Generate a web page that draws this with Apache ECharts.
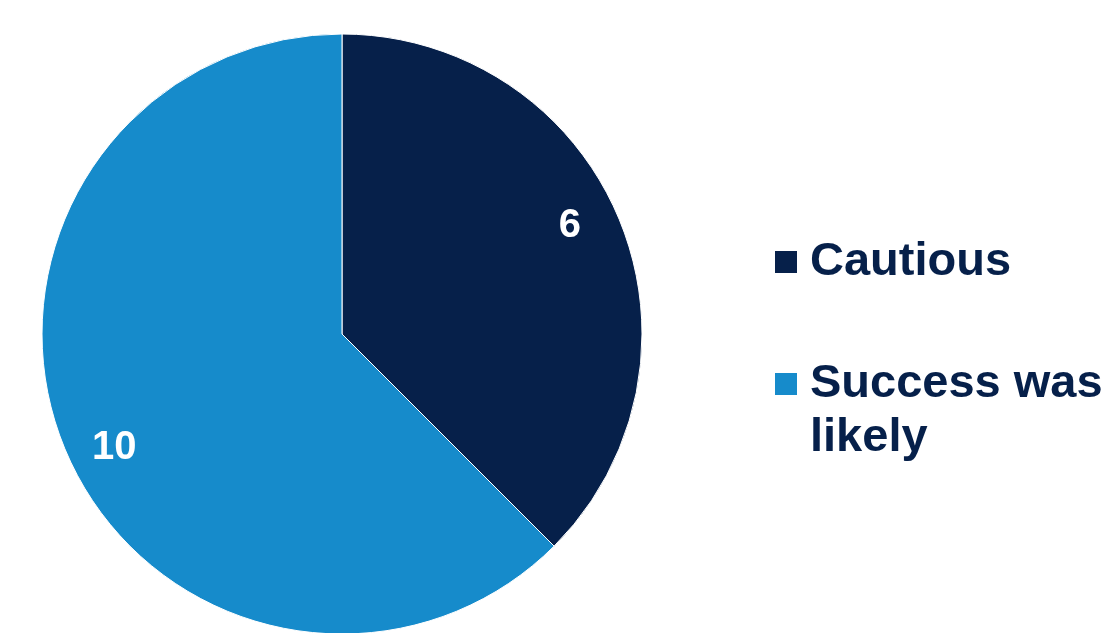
<!DOCTYPE html>
<html>
<head>
<meta charset="utf-8">
<script src="https://cdn.jsdelivr.net/npm/echarts@6/dist/echarts.min.js"></script>
<style>html,body{margin:0;padding:0;background:#fff}#c{width:1107px;height:633px}</style>
</head>
<body>
<div id="c"></div>
<script>
const categories = ['Cautious', 'Success was likely'];
const values = [6, 10];
const colors = ['#06204A', '#168BCB'];

const chart = echarts.init(document.getElementById('c'));
const data = categories.map((n, i) => ({ name: n, value: values[i], itemStyle: { color: colors[i] } }));
const font = '"Liberation Sans", Arial, sans-serif';
const legendText = (pad) => ({
  color: '#06204A', fontSize: 47, fontWeight: 'bold', fontFamily: font,
  lineHeight: 54, padding: pad
});
chart.setOption({
  animation: false,
  legend: [
    {
      orient: 'vertical', left: 773, top: 235, padding: 0,
      itemWidth: 24, itemHeight: 24, icon: 'rect',
      data: [{ name: categories[0], itemStyle: { color: colors[0] } }],
      textStyle: legendText([0, 0, 0, 7]),
      selectedMode: false
    },
    {
      orient: 'vertical', left: 773, top: 303, padding: 0,
      itemWidth: 24, itemHeight: 24, icon: 'rect',
      data: [{ name: categories[1], itemStyle: { color: colors[1] } }],
      formatter: () => '\nSuccess was\nlikely',
      textStyle: legendText([0, 0, 0, 7]),
      selectedMode: false
    }
  ],
  series: [
    {
      type: 'pie', center: [342, 334], radius: [0, 300], startAngle: 90,
      clockwise: true, silent: true,
      itemStyle: { borderColor: '#fff', borderWidth: 1 },
      label: { show: false }, labelLine: { show: false },
      data: data
    },
    {
      type: 'pie', center: [342, 334], radius: [201, 300], startAngle: 93.5,
      clockwise: true, silent: true,
      itemStyle: { color: 'transparent' },
      label: {
        show: true, position: 'inside', color: '#fff', fontSize: 40,
        fontWeight: 'bold', fontFamily: font, formatter: '{c}', offset: [0, 3]
      },
      labelLine: { show: false },
      emphasis: { disabled: true },
      data: categories.map((n, i) => ({ name: n, value: values[i], itemStyle: { color: 'transparent' } }))
    }
  ]
});
</script>
</body>
</html>
